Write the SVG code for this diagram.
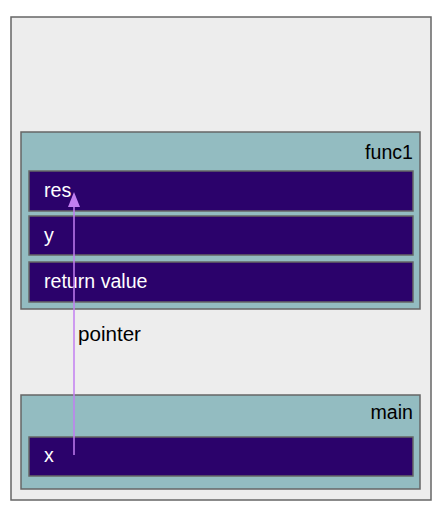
<svg xmlns="http://www.w3.org/2000/svg" width="446" height="518" viewBox="0 0 446 518">
<defs>
<style>
.outer{fill:#ededed;stroke:#666;stroke-width:1.5}
.frame{fill:#93bcc1;stroke:#666;stroke-width:1.5}
.cell{fill:#2b026b;stroke:#666;stroke-width:1.5}
.lbl{font-family:"Liberation Sans",Arial,sans-serif;font-size:19.6px;fill:#000}
.cl{font-family:"Liberation Sans",Arial,sans-serif;font-size:19.6px;fill:#fff}
.conn{stroke:#c27ef0;stroke-width:1.5;fill:none}
</style>
<marker id="ah" viewBox="0 0 12 15" refX="6" refY="0" markerWidth="12" markerHeight="15" markerUnits="userSpaceOnUse" orient="auto">
<path d="M0,15 L6,0 L12,15 Z" fill="#c27ef0"/>
</marker>
</defs>
<rect class="outer" x="11" y="17" width="420" height="483"/>
<g id="func1">
<rect class="frame" x="21" y="132" width="399" height="177"/>
<text class="lbl" x="413" y="159" text-anchor="end">func1</text>
<g id="res"><rect class="cell" x="29" y="171" width="384" height="40"/><text class="cl" x="44" y="197">res</text></g>
<g id="y"><rect class="cell" x="29" y="216" width="384" height="39"/><text class="cl" x="44" y="242">y</text></g>
<g id="retval"><rect class="cell" x="29" y="262" width="384" height="40"/><text class="cl" x="44" y="288">return value</text></g>
</g>
<g id="main">
<rect class="frame" x="21" y="395" width="399" height="94"/>
<text class="lbl" x="413" y="419" text-anchor="end">main</text>
<g id="x"><rect class="cell" x="29" y="437" width="384" height="39"/><text class="cl" x="44" y="462">x</text></g>
</g>
<g id="connectors">
<path class="conn" d="M74,455 L74,206"/>
<path d="M68,207 L74,192 L80,207 Z" fill="#c27ef0"/>
<text class="lbl" x="78" y="341" style="font-size:20.6px">pointer</text>
</g>
</svg>
